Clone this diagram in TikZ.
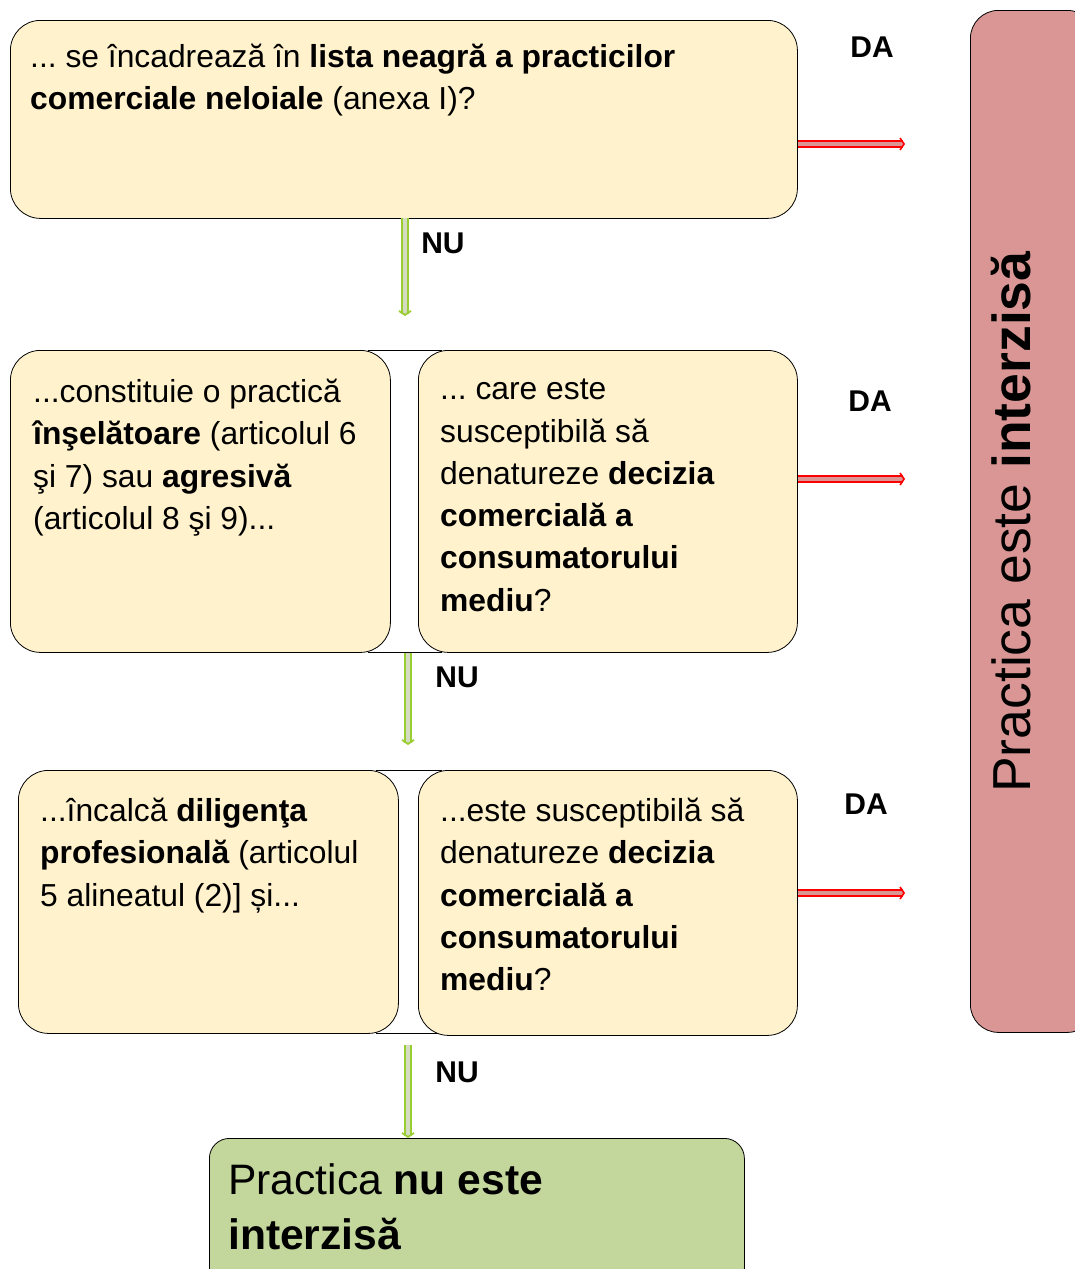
\documentclass[tikz,border=0pt]{standalone}
\usepackage{fontspec}
\setmainfont{Liberation Sans}
\frenchspacing
\usetikzlibrary{positioning,arrows.meta}
\definecolor{boxcream}{HTML}{FFF2CC}
\definecolor{boxgreen}{HTML}{C3D69B}
\definecolor{boxred}{HTML}{D99694}
\definecolor{nugreen}{HTML}{9ACD32}
\begin{document}
\begin{tikzpicture}[x=1pt,y=1pt,
  qbox/.style={draw,thick,fill=boxcream,rounded corners=30pt,inner sep=0pt},
  qtext/.style={anchor=north west,align=left,inner sep=0pt,font=\fontsize{31.8}{42.3}\selectfont},
  lbl/.style={font=\fontsize{30}{34}\selectfont\bfseries},
  daarrow/.style={draw=red,line width=1.6pt,double=boxred,double distance=4.5pt,-{Straight Barb[length=4pt,width=12pt]}},
  nuarrow/.style={draw=nugreen,line width=1.8pt,double=boxgreen!80!gray!60,double distance=4.5pt,-{Straight Barb[length=4pt,width=12pt]}}]
\useasboundingbox (0,0) rectangle (1075,-1269);

% verdict on the right
\node (YES)[draw,thick,fill=boxred,rounded corners=28pt,minimum width=125pt,minimum height=1022pt,anchor=north west] at (970,-10) {};
\node[rotate=90,font=\fontsize{53.5}{58}\selectfont] at (1011,-522) {Practica este \textbf{interzisă}};

% joints between the paired boxes
\fill[white] (368,-350) rectangle (442,-652);
\draw[thick] (368,-350) -- (442,-350) (368,-652) -- (442,-652);
\fill[white] (376,-770) rectangle (442,-1033);
\draw[thick] (376,-770) -- (442,-770) (376,-1033) -- (442,-1033);

% question boxes
\node (Q1)[qbox,minimum width=787pt,minimum height=198pt,anchor=north west] at (10,-20) {};
\node (Q2a)[qbox,minimum width=380pt,minimum height=302pt,anchor=north west] at (10,-350) {};
\node (Q2b)[qbox,minimum width=379pt,minimum height=302pt,anchor=north west] at (418,-350) {};
\node (Q3a)[qbox,minimum width=380pt,minimum height=263pt,anchor=north west] at (18,-770) {};
\node (Q3b)[qbox,minimum width=379pt,minimum height=265pt,anchor=north west] at (418,-770) {};
\node (NO)[draw,thick,fill=boxgreen,rounded corners=20pt,minimum width=535pt,minimum height=150pt,anchor=north west] at (209,-1138) {};

\node[qtext] at (30,-44) {... se încadrează în \textbf{lista neagră a practicilor}\\
\textbf{comerciale neloiale} (anexa I)?};
\node[qtext] at (33,-379) {...constituie o practică\\
\textbf{înşelătoare} (articolul 6\\
şi 7) sau \textbf{agresivă}\\
(articolul 8 şi 9)...};
\node[qtext] at (440,-379) {... care este\\
susceptibilă să\\
denatureze \textbf{decizia}\\
\textbf{comercială a}\\
\textbf{consumatorului}\\
\textbf{mediu}?};
\node[qtext] at (40,-798) {...încalcă \textbf{diligenţa}\\
\textbf{profesională} (articolul\\
5 alineatul (2)] și...};
\node[qtext] at (440,-798) {...este susceptibilă să\\
denatureze \textbf{decizia}\\
\textbf{comercială a}\\
\textbf{consumatorului}\\
\textbf{mediu}?};
\node[anchor=north west,align=left,inner sep=0pt,font=\fontsize{42.6}{55}\selectfont] at (228,-1163) {Practica \textbf{nu este}\\
\textbf{interzisă}};

% DA
\coordinate (D1) at (905,-144);
\coordinate (D2) at (905,-479);
\coordinate (D3) at (905,-893);
\draw[daarrow] (Q1.east |- D1) -- (D1);
\draw[daarrow] (Q2b.east |- D2) -- (D2);
\draw[daarrow] (Q3b.east |- D3) -- (D3);
\node[lbl] at (872,-47) {DA};
\node[lbl] at (870,-401) {DA};
\node[lbl] at (866,-804) {DA};

% NU
\coordinate (N1s) at (405,-218);
\coordinate (N1e) at (405,-316);
\coordinate (N2e) at (408,-745);
\coordinate (N3s) at (408,-1045);
\draw[nuarrow] (N1s) -- (N1e);
\draw[nuarrow] (N2e |- Q2a.south) -- (N2e);
\draw[nuarrow] (N3s) -- (N3s |- NO.north);
\node[lbl] at (443,-243) {NU};
\node[lbl] at (457,-677) {NU};
\node[lbl] at (457,-1072) {NU};
\end{tikzpicture}
\end{document}
